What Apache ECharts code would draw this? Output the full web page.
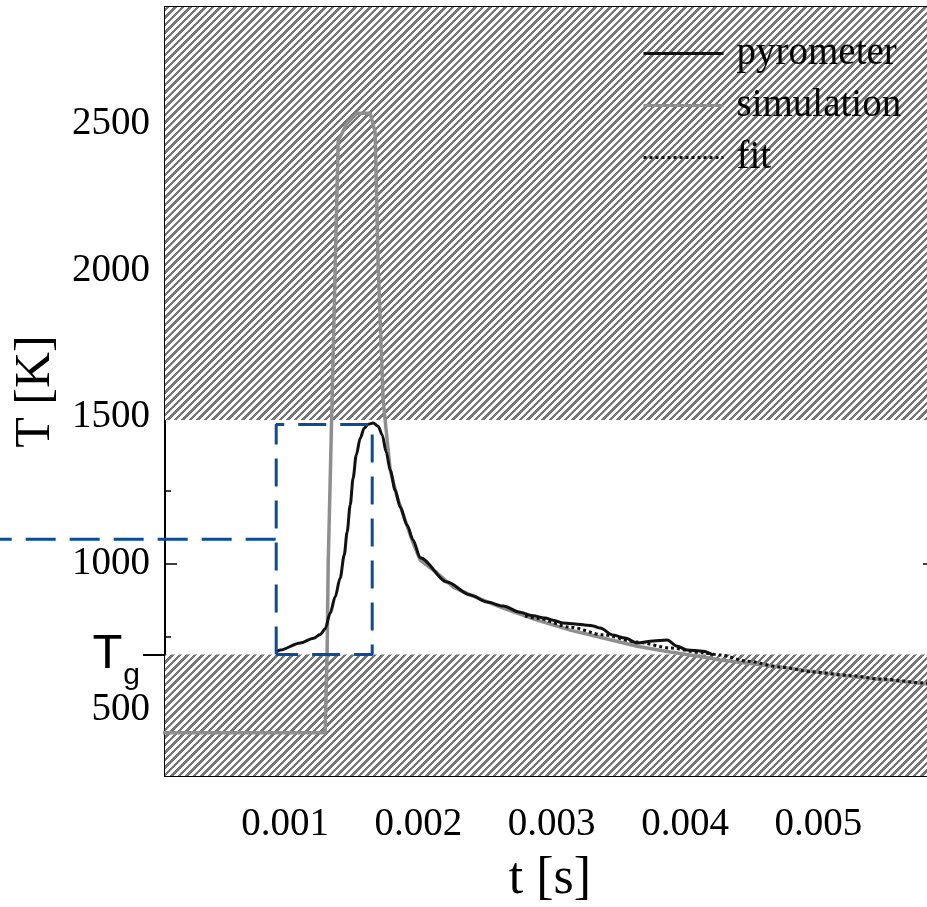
<!DOCTYPE html>
<html>
<head>
    <meta charset="UTF-8">
    <title>pyrometer vs simulation</title>
    <script src="https://cdn.jsdelivr.net/npm/echarts@6/dist/echarts.min.js"></script>
    <style>
        html, body { margin: 0; padding: 0; background: #fff; }
        #main { width: 927px; height: 907px; }
    </style>
</head>
<body>
<div id="main"></div>
<script type="text/javascript">

    // axis ranges
    var tMin = 0.0001, tMax = 0.005875;
    var TMin = 275, TMax = 2900;
    var xMajor = [0.001, 0.002, 0.003, 0.004, 0.005];
    var xMinor = [0.0005, 0.0015, 0.0025, 0.0035, 0.0045, 0.0055];
    var yMajor = [500, 1000, 1500, 2000, 2500];
    var yMinor = [750, 1250, 1750, 2250, 2750];

    // hatched bands and the glass temperature
    var Tg = 690;
    var Thigh = 1490;

    // measured pyrometer curve [t (s), T (K)]
    var pyrometer = [
        [0.000934, 698], [0.000964, 705], [0.001114, 729], [0.001214, 745], [0.001264, 758],
        [0.001301, 777], [0.001339, 831], [0.001376, 886], [0.001414, 951], [0.001444, 1029],
        [0.001466, 1108], [0.001489, 1200], [0.001511, 1292], [0.001534, 1370], [0.001564, 1428],
        [0.001594, 1462], [0.001624, 1476], [0.001661, 1480], [0.001699, 1469], [0.001729, 1439],
        [0.001759, 1381], [0.001789, 1319], [0.001826, 1251], [0.001864, 1193], [0.001916, 1131],
        [0.001961, 1080], [0.002014, 1020], [0.002216, 937], [0.002389, 893], [0.002516, 869],
        [0.002636, 855], [0.002764, 834], [0.002839, 824], [0.002951, 814], [0.003011, 807],
        [0.003086, 797], [0.003176, 794], [0.003266, 790], [0.003311, 787], [0.003364, 780],
        [0.003461, 756], [0.003551, 746], [0.003641, 729], [0.003761, 736], [0.003866, 739],
        [0.003941, 718], [0.004016, 705], [0.004136, 701], [0.004211, 688]
    ];

    // simulated temperature
    var simulation = [
        [0.0000, 423], [0.001301, 423], [0.001316, 700], [0.001324, 1000], [0.001346, 1421],
        [0.001399, 2445], [0.001429, 2470], [0.001460, 2500], [0.001541, 2537], [0.001639, 2537],
        [0.001676, 2473], [0.001699, 2010], [0.001736, 1560], [0.001751, 1490], [0.001789, 1320],
        [0.001841, 1227], [0.001961, 1070], [0.002014, 1012], [0.002141, 968], [0.002261, 920],
        [0.002389, 893], [0.002636, 848], [0.002891, 807], [0.003139, 773], [0.003386, 746],
        [0.003641, 718], [0.003889, 698], [0.004136, 681], [0.004264, 671], [0.004714, 647],
        [0.005216, 616], [0.005816, 589], [0.005900, 586]
    ];

    // fitted cooling curve
    var fit = [
        [0.002800, 822], [0.002891, 813], [0.003139, 783], [0.003386, 757], [0.003641, 732],
        [0.003889, 712], [0.004136, 695], [0.004264, 688], [0.004466, 667], [0.004714, 647],
        [0.004961, 630], [0.005216, 619], [0.005464, 606], [0.005816, 592], [0.005900, 590]
    ];

    // blue dashed box around the peak and its leader line
    var box = [[0.000934, 690], [0.000934, 1475], [0.001654, 1475], [0.001654, 690], [0.000934, 690]];
    var leader = [[-0.00114, 1083], [0.000934, 1083]];

    var serif = 'Liberation Serif';
    var blue = '#0a4c97';

    // diagonal hatching pattern, drawn pixel by pixel so the stripes stay crisp
    function hatch() {
        var c = document.createElement('canvas');
        c.width = 15; c.height = 15;
        var ctx = c.getContext('2d');
        ctx.fillStyle = '#fff';
        ctx.fillRect(0, 0, 15, 15);
        ctx.fillStyle = '#777';
        for (var y = 0; y < 15; y++) {
            for (var x = 0; x < 15; x++) {
                if (((x + y) % 7.5) < 3.5) ctx.fillRect(x, y, 1, 1);
            }
        }
        return c;
    }

    function xAx(pos, ticks, len, labels) {
        return {
            type: 'value', position: pos, min: tMin, max: tMax,
            splitLine: { show: false },
            axisLine: { show: true, onZero: false, lineStyle: { color: '#000', width: 2 } },
            axisTick: { show: true, inside: true, length: len, customValues: ticks,
                lineStyle: { color: '#000', width: 1.5 } },
            axisLabel: labels ? {
                show: true, customValues: ticks, margin: 29,
                fontFamily: serif, fontSize: 39, color: '#000',
                formatter: function (v) { return v.toFixed(3); }
            } : { show: false },
            name: labels ? 't [s]' : '', nameLocation: 'middle', nameGap: 77,
            nameTextStyle: { fontFamily: serif, fontSize: 52, color: '#000' }
        };
    }

    function yAx(pos, ticks, len, labels) {
        return {
            type: 'value', position: pos, min: TMin, max: TMax,
            splitLine: { show: false },
            axisLine: { show: true, onZero: false, lineStyle: { color: '#000', width: 2 } },
            axisTick: { show: true, inside: true, length: len, customValues: ticks,
                lineStyle: { color: '#000', width: 1.5 } },
            axisLabel: labels ? {
                show: true, customValues: ticks, margin: 15,
                fontFamily: serif, fontSize: 39, color: '#000',
                formatter: function (v) { return String(v); }
            } : { show: false },
            name: labels ? 'T [K]' : '', nameLocation: 'middle', nameGap: 77, nameRotate: 90,
            nameTextStyle: { fontFamily: serif, fontSize: 50, color: '#000' }
        };
    }

    var chartDom = document.getElementById('main');
    var myChart = echarts.init(chartDom);
    var option;

    var tgAxis = {
        type: 'value', position: 'left', min: TMin, max: TMax,
        splitLine: { show: false },
        axisLine: { show: false },
        axisTick: { show: true, inside: false, length: 22, customValues: [Tg],
            lineStyle: { color: '#000', width: 2 } },
        axisLabel: {
            show: true, customValues: [Tg], margin: 25,
            formatter: function () { return '{T|T}{g|g}'; },
            rich: {
                T: { fontFamily: 'Liberation Sans', fontSize: 49, color: '#000' },
                g: { fontFamily: 'Liberation Sans', fontSize: 30, color: '#000', padding: [42, 0, 0, 1] }
            }
        }
    };

    option = {
        backgroundColor: '#fff',
        animation: false,
        grid: { left: 165, top: 7, width: 770, bottom: 131, containLabel: false, outerBoundsMode: 'none' },
        xAxis: [
            xAx('bottom', xMajor, 12, true),
            xAx('bottom', xMinor, 6, false),
            xAx('top', xMajor, 12, false),
            xAx('top', xMinor, 6, false)
        ],
        yAxis: [
            yAx('left', yMajor, 12, true),
            yAx('left', yMinor, 6, false),
            yAx('right', yMajor, 12, false),
            yAx('right', yMinor, 6, false),
            tgAxis
        ],
        legend: {
            data: ['pyrometer', 'simulation', 'fit'],
            orient: 'vertical',
            left: 637, top: 29,
            itemWidth: 80, itemHeight: 14, itemGap: 13,
            itemStyle: { opacity: 0 },
            lineStyle: { width: 3 },
            textStyle: { fontFamily: serif, fontSize: 39, color: '#000', padding: [0, 0, 0, 8] }
        },
        series: [
            {
                name: 'hatch', type: 'line', z: 1, silent: true,
                data: [[tMin, TMin]], showSymbol: false, symbol: 'none',
                lineStyle: { opacity: 0 },
                markArea: {
                    silent: true,
                    itemStyle: { color: { image: hatch(), repeat: 'repeat' } },
                    data: [
                        [{ xAxis: tMin, yAxis: Thigh }, { xAxis: tMax, yAxis: TMax }],
                        [{ xAxis: tMin, yAxis: TMin }, { xAxis: tMax, yAxis: Tg }]
                    ]
                }
            },
            {
                name: 'simulation', type: 'line', z: 3, symbol: 'none',
                data: simulation,
                color: '#8e8e8e',
                lineStyle: { color: '#8e8e8e', width: 3.5 }
            },
            {
                name: 'fit', type: 'line', z: 4, symbol: 'none',
                data: fit, smooth: 0.3, smoothMonotone: 'x',
                color: '#111',
                lineStyle: { color: '#111', width: 3, type: 'dotted' }
            },
            {
                name: 'pyrometer', type: 'line', z: 5, symbol: 'none',
                data: pyrometer, smooth: 0.3, smoothMonotone: 'x',
                color: '#111',
                lineStyle: { color: '#111', width: 3 }
            },
            {
                name: 'box', type: 'line', z: 6, symbol: 'none', clip: false, silent: true,
                data: box,
                lineStyle: { color: blue, width: 3, type: [28, 14] }
            }
        ]
    };

    option && myChart.setOption(option);

    // leader line runs out past the axis, so place it with the chart's own scale
    var lp = leader.map(function (d) { return myChart.convertToPixel({ gridIndex: 0 }, d); });
    myChart.setOption({
        graphic: [{
            type: 'polyline', silent: true, z: 100,
            shape: { points: lp },
            style: { stroke: blue, lineWidth: 3, lineDash: [30, 14], lineDashOffset: 18, fill: null }
        }]
    });
</script>
</body>
</html>
